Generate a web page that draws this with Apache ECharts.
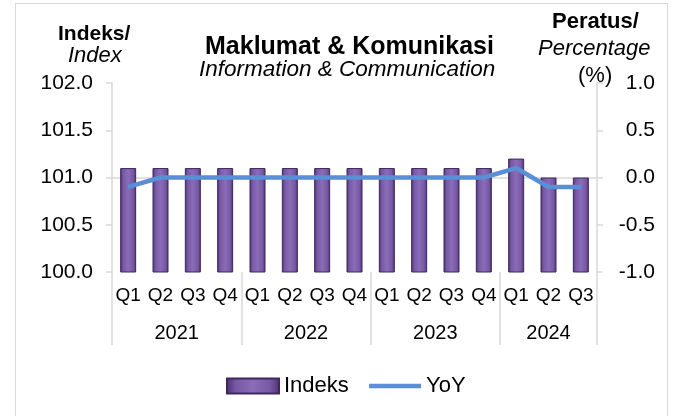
<!DOCTYPE html>
<html>
<head>
<meta charset="utf-8">
<script src="https://cdn.jsdelivr.net/npm/echarts@6/dist/echarts.min.js"></script>
<style>
  * { margin: 0; padding: 0; }
  body { width: 679px; height: 416px; background: #fff; overflow: hidden; }
  #chart { position: absolute; left: 0; top: 0; width: 679px; height: 416px; }
  .frame {
    position: absolute; left: 15px; top: 3px; width: 651px; height: 420px;
    border: 1px solid #d9d9d9; pointer-events: none;
  }
</style>
</head>
<body>
<div id="chart"></div>
<div class="frame"></div>
<script>
// data
const quarters = ["Q1", "Q2", "Q3", "Q4", "Q1", "Q2", "Q3", "Q4", "Q1", "Q2", "Q3", "Q4", "Q1", "Q2", "Q3"];
const years = ["2021", "2022", "2023", "2024"];
const yearMid = [2, 6, 10, 13.5]; // middle of each year's group of quarters
const yearEdge = [0, 4, 8, 12, 15];
const indeks = [101.1, 101.1, 101.1, 101.1, 101.1, 101.1, 101.1, 101.1, 101.1, 101.1, 101.1, 101.1, 101.2, 101.0, 101.0];
const yoy = [-0.1, 0.0, 0.0, 0.0, 0.0, 0.0, 0.0, 0.0, 0.0, 0.0, 0.0, 0.0, 0.1, -0.1, -0.1];

const font = "Liberation Sans, Arial, sans-serif";
const grey = "#d9d9d9";

const barColor = new echarts.graphic.LinearGradient(0, 0, 1, 0, [
  { offset: 0, color: "#4a3270" },
  { offset: 0.18, color: "#7658a3" },
  { offset: 0.5, color: "#8a6cb9" },
  { offset: 0.82, color: "#7658a3" },
  { offset: 1, color: "#4a3270" },
]);

const myChart = echarts.init(document.getElementById("chart"));

// titles and axis names, each text placed on its own
const txt = (text, left, top, size, weight, style) => ({
  text: text,
  left: left,
  top: top,
  padding: 0,
  textStyle: { fontFamily: font, fontSize: size, fontWeight: weight, fontStyle: style, color: "#000" },
});

const option = {
  animation: false,
  title: [
    txt("Maklumat & Komunikasi", 205, 35, 25, "bold", "normal"),
    txt("Information & Communication", 199, 58, 22.5, "normal", "italic"),
    txt("Indeks/", 58, 24, 21, "bold", "normal"),
    txt("Index", 68, 45, 22, "normal", "italic"),
    txt("Peratus/", 552, 11, 22, "bold", "normal"),
    txt("Percentage", 538, 38, 22, "normal", "italic"),
    txt("(%)", 578, 65, 22, "normal", "normal"),
  ],
  legend: {
    bottom: 19,
    left: 226,
    padding: 0,
    itemWidth: 52,
    itemHeight: 15,
    itemGap: 18,
    textStyle: { fontFamily: font, fontSize: 22, color: "#000" },
    data: [
      { name: "Indeks", icon: "rect" },
      { name: "YoY", itemStyle: { opacity: 0 }, lineStyle: { width: 4.5, color: "#5a8fd6" } },
    ],
  },
  grid: { left: 112, right: 82, top: 83, bottom: 144 },
  xAxis: [
    {
      type: "category",
      data: quarters,
      axisLine: { lineStyle: { color: grey, width: 1.5 } },
      axisTick: { show: false },
      axisLabel: { fontFamily: font, fontSize: 19, color: "#000", margin: 14, interval: 0 },
    },
    {
      // second row: years, with separators between the groups
      type: "value",
      position: "bottom",
      min: 0,
      max: 15,
      axisLine: { show: false },
      splitLine: { show: false },
      axisTick: {
        show: true,
        customValues: yearEdge,
        length: 73,
        lineStyle: { color: grey, width: 1.5 },
      },
      axisLabel: {
        customValues: yearMid,
        fontFamily: font,
        fontSize: 20,
        color: "#000",
        margin: 51,
        formatter: (v) => years[yearMid.indexOf(v)] || "",
      },
    },
  ],
  yAxis: [
    {
      type: "value",
      min: 100,
      max: 102,
      interval: 0.5,
      axisLine: { show: true, lineStyle: { color: grey, width: 1.5 } },
      axisTick: { show: true, length: 6, lineStyle: { color: grey, width: 1.5 } },
      splitLine: { show: false },
      axisLabel: {
        fontFamily: font,
        fontSize: 21,
        color: "#000",
        margin: 19,
        formatter: (v) => v.toFixed(1),
      },
    },
    {
      type: "value",
      min: -1,
      max: 1,
      interval: 0.5,
      position: "right",
      axisLine: { show: true, lineStyle: { color: grey, width: 1.5 } },
      axisTick: { show: true, length: 6, lineStyle: { color: grey, width: 1.5 } },
      splitLine: { show: false },
      axisLabel: {
        fontFamily: font,
        fontSize: 21,
        color: "#000",
        margin: 58,
        align: "right",
        formatter: (v) => v.toFixed(1),
      },
    },
  ],
  series: [
    {
      name: "Indeks",
      type: "bar",
      data: indeks,
      barWidth: 16,
      itemStyle: { color: barColor, borderColor: "#3e2860", borderWidth: 1 },
    },
    {
      name: "YoY",
      type: "line",
      yAxisIndex: 1,
      data: yoy,
      symbol: "none",
      lineStyle: { color: "#5a8fd6", width: 4.5 },
      itemStyle: { color: "#5a8fd6" },
    },
  ],
};

myChart.setOption(option);
</script>
</body>
</html>
